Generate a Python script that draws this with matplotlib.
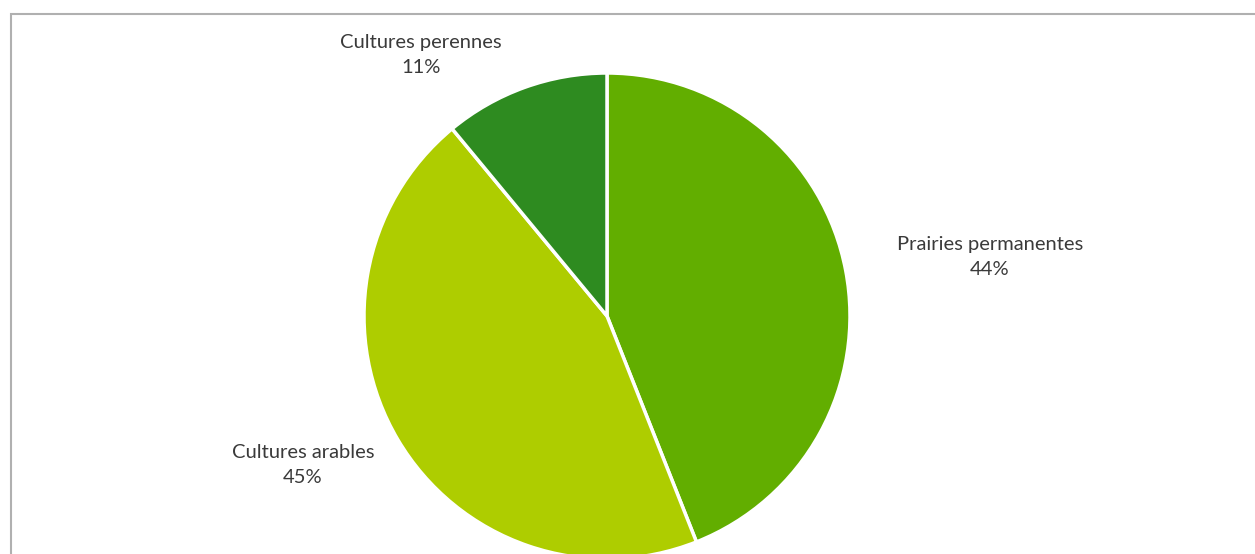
import matplotlib.pyplot as plt
from matplotlib.patches import Rectangle

# Répartition de la surface agricole
categories = ['Prairies permanentes', 'Cultures arables', 'Cultures perennes']
shares = [44, 45, 11]
colors = ['#62AE00', '#AECD00', '#2E8B20']

# label anchor positions (pixels from top-left), layout only
label_pos = [(990, 257), (303, 465), (421, 55)]

W, H = 1255, 554
fig = plt.figure(figsize=(W / 100, H / 100), dpi=100)
ax = fig.add_axes([0, 0, 1, 1])

wedges, _ = ax.pie(shares, colors=colors, startangle=90, counterclock=False,
                   center=(607, H - 316), radius=243, frame=True,
                   wedgeprops=dict(edgecolor='white', linewidth=2.5))
ax.set_xlim(0, W)
ax.set_ylim(0, H)
ax.set_aspect('equal')
ax.axis('off')

for name, val, (x, y) in zip(categories, shares, label_pos):
    ax.text(x, H - y, f'{name}\n{val}%', ha='center', va='center',
            fontsize=14.5, family='Lato', color='#3A3A3A', linespacing=1.55)

# chart frame (cut off on the right and bottom)
fig.add_artist(Rectangle((11.5 / W, -0.1), 1.2, 1 - 13.5 / H + 0.1,
                         transform=fig.transFigure, fill=False,
                         edgecolor='#B0B0B0', linewidth=1.5))

fig.savefig('out.png', dpi=100)
